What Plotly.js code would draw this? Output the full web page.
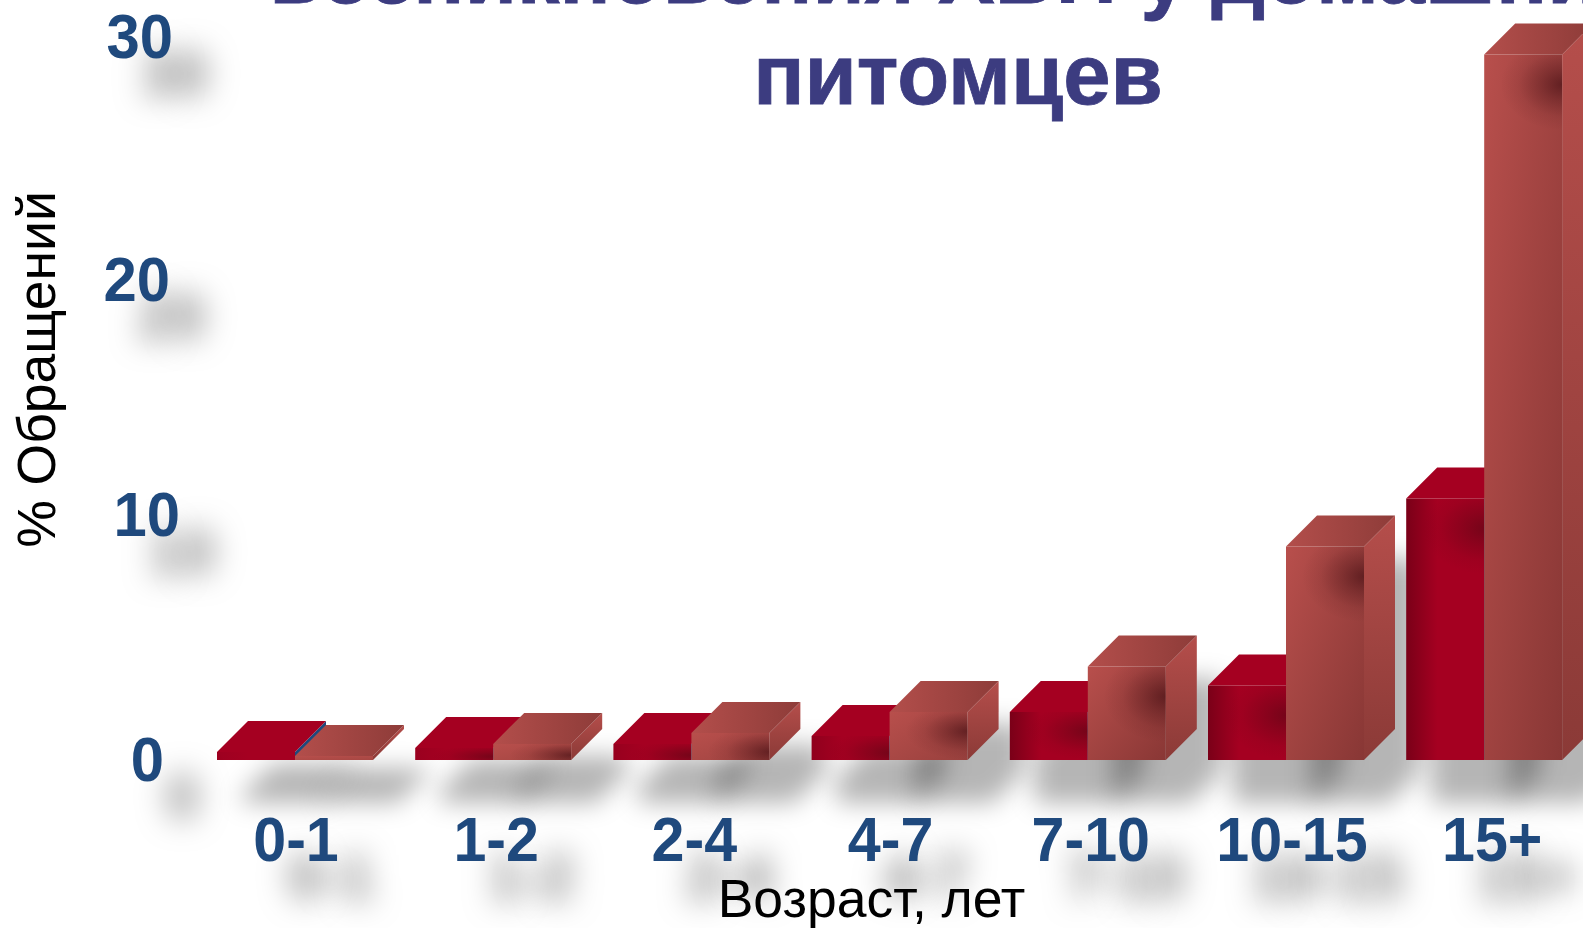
<!DOCTYPE html>
<html lang="ru">
<head>
<meta charset="utf-8">
<title>Возраст и обращения</title>
<script src="https://cdn.plot.ly/plotly-3.0.1.min.js"></script>
<style>
  html, body { margin: 0; padding: 0; background: #fff; overflow: hidden; }
  #chart { width: 1583px; height: 928px; }
</style>
</head>
<body>
<div id="chart"></div>
<script>
// Share of visits per age group, two series side by side
const ageGroups = ['0-1', '1-2', '2-4', '4-7', '7-10', '10-15', '15+'];
const seriesLeft = [0.33, 0.5, 0.67, 1.0, 2.0, 3.1, 10.9];
const seriesRight = [0.17, 0.67, 1.13, 2.0, 3.9, 8.9, 29.4];
const valueTicks = [0, 10, 20, 30];

// Fine placement of the tick labels, in pixels
const xTickNudge = [1, 3, 3, 1, 3, 6, 8];
const xTickLift = -46;
const yTickNudge = [[-15, -1], [1, -6], [-9, -1], [-6, -4]];

const W = 1583, H = 928;
const margin = { l: 180, r: 0, t: 0, b: 85 };
const pxPerGroup = 198.2, pxPerUnit = 24;
const firstGroupPx = 295, baselinePx = 760;

const xRange = [(margin.l - firstGroupPx) / pxPerGroup, (W - firstGroupPx) / pxPerGroup];
const yRange = [(baselinePx - (H - margin.b)) / pxPerUnit, baselinePx / pxPerUnit];

const barW = 78 / pxPerGroup;      // one bar's front width
const depthX = 31 / pxPerGroup;    // oblique depth of the box
const depthY = 31 / pxPerUnit;
const shadowX = 25 / pxPerGroup;   // cast shadow offset
const shadowY = 43 / pxPerUnit;

const NAVY = '#1F497D', TITLE = '#3C3C80';

function poly(xs, ys, extra) {
  return Object.assign({
    type: 'scatter', mode: 'none', x: xs.concat(xs[0]), y: ys.concat(ys[0]),
    fill: 'toself', hoverinfo: 'skip', showlegend: false
  }, extra);
}
function grad(type, c0, c1, mid) {
  const scale = mid === undefined ? [[0, c0], [1, c1]] : [[0, c0], [mid, c1], [1, c1]];
  return { fillgradient: { type: type, colorscale: scale } };
}
function mix(a, b, t) {
  return 'rgb(' + a.map((v, i) => Math.round(v + (b[i] - v) * t)).join(',') + ')';
}

// Box faces for one bar starting at x0 with value v
function frontFace(x0, v, extra) {
  return poly([x0, x0 + barW, x0 + barW, x0], [0, 0, v, v], extra);
}
function topFace(x0, v, extra) {
  return poly([x0, x0 + barW, x0 + barW + depthX, x0 + depthX], [v, v, v + depthY, v + depthY], extra);
}
function sideFace(x0, v, extra) {
  const x1 = x0 + barW;
  return poly([x1, x1 + depthX, x1 + depthX, x1], [0, depthY, v + depthY, v], extra);
}
// Dark soft spot whose centre sits on the right edge of a front face
function spot(x0, v, alpha) {
  const hPx = v * pxPerUnit, x1 = x0 + barW, x2 = x1 - 62 / pxPerGroup;
  const shade = { kind: 'spot', alpha: alpha };
  const opts = {
    fillgradient: { type: 'radial', colorscale: [[0, 'rgba(60,10,15,' + alpha + ')'], [1, 'rgba(60,10,15,0)']] },
    meta: shade
  };
  if (hPx < 40) {
    shade.tall = false;
    return poly([x2, x1, x1, x2], [0, 0, v, v], opts);
  }
  const cy = v - Math.min(30, hPx * 0.4) / pxPerUnit;
  const r = Math.min(46, cy * pxPerUnit) / pxPerUnit;
  shade.tall = true;
  return poly([x2, x1, x1, x2], [cy - r, cy - r, cy + r, cy + r], opts);
}
// Blurred copy of a box outline, shifted down and to the right
function castShadow(x0, v) {
  const x1 = x0 + barW, sx = shadowX, sy = -shadowY;
  return poly(
    [x0 + sx, x1 + sx, x1 + depthX + sx, x1 + depthX + sx, x0 + depthX + sx, x0 + sx],
    [sy, sy, depthY + sy, v + depthY + sy, v + depthY + sy, v + sy],
    { fillcolor: 'rgba(0,0,0,0.29)', meta: { kind: 'shadow' } });
}

const traces = [];
ageGroups.forEach((g, i) => {
  traces.push(castShadow(i - barW, seriesLeft[i]));
  traces.push(castShadow(i, seriesRight[i]));
});
ageGroups.forEach((g, i) => {
  const vl = seriesLeft[i], vr = seriesRight[i];
  const xl = i - barW, xr = i;

  // Left series: deep red, darker on its left side once it is tall enough
  const dk = Math.min(1, vl / 2);
  traces.push(frontFace(xl, vl, grad('horizontal', mix([165, 0, 33], [122, 0, 24], dk), '#A50021', 0.4)));
  if (vl >= 0.5) traces.push(spot(xl, vl, 0.45));
  traces.push(sideFace(xl, vl, { fillcolor: NAVY }));
  traces.push(topFace(xl, vl, { fillcolor: '#A50021' }));

  // Right series: brick red shading from the upper left to the lower right
  const tone = Math.min(1, vr / 4);
  const faceEnd = mix([168, 72, 68], [136, 55, 53], tone);
  traces.push(frontFace(xr, vr, Object.assign(grad('vertical', faceEnd, '#B84F4C'),
    { meta: { kind: 'diagonal', from: '#B84F4C', to: faceEnd } })));
  if (vr >= 0.5) traces.push(spot(xr, vr, 0.62));
  traces.push(sideFace(xr, vr, grad('vertical', '#8B3A37', '#B54E4B')));
  traces.push(topFace(xr, vr, grad('horizontal', '#B34E4B', '#8E3C39')));
});

const tickFont = {
  family: 'Liberation Sans, Arial, sans-serif', size: 63, color: NAVY, weight: 700,
  shadow: '36px 36px 30px rgba(0,0,0,0.5)'
};
const axisTitleFont = { family: 'Liberation Sans, Arial, sans-serif', size: 53.5, color: '#000' };

const layout = {
  width: W, height: H,
  margin: Object.assign({ pad: 0, autoexpand: false }, margin),
  paper_bgcolor: '#fff', plot_bgcolor: 'rgba(0,0,0,0)',
  showlegend: false,
  title: {
    text: 'возникновения ХБП у домашних<br>питомцев',
    font: { family: 'Liberation Sans, Arial, sans-serif', size: 85, color: TITLE, weight: 700 },
    x: 958 / W, xanchor: 'center', xref: 'container',
    y: 1.0, yref: 'container', yanchor: 'top', automargin: false,
    pad: { t: 0, b: 0, l: 0, r: 0 }
  },
  xaxis: {
    range: xRange, tickmode: 'array', tickvals: ageGroups.map((g, i) => i), ticktext: ageGroups,
    showgrid: false, zeroline: false, showline: false, ticks: '', tickfont: tickFont,
    title: { text: 'Возраст, лет', standoff: 0, font: axisTitleFont }
  },
  yaxis: {
    range: yRange, tickmode: 'array', tickvals: valueTicks, ticktext: valueTicks.map(String),
    showgrid: false, zeroline: false, showline: false, ticks: '', tickfont: tickFont,
    title: { text: '% Обращений', standoff: 0, font: axisTitleFont }
  }
};

// Slide a drawn text by (dx, dy), narrowing its glyphs a little around its anchor
function place(t, dx, dy, sx) {
  const cx = +t.getAttribute('x') || 0, cy = +t.getAttribute('y') || 0;
  const prior = t.getAttribute('transform') || '';
  t.setAttribute('transform',
    'translate(' + dx + ',' + dy + ') ' + prior +
    ' translate(' + cx + ',' + cy + ') scale(' + sx + ',1) translate(' + (-cx) + ',' + (-cy) + ')');
}

// Redefine the gradient a fill refers to, in units of the shape's own box
function reshapeGradient(path, attrs, stops) {
  const ref = (path.style.fill || path.getAttribute('fill') || '').match(/#([^"')]+)/);
  if (!ref) return;
  const g = document.getElementById(ref[1]);
  if (!g) return;
  g.removeAttribute('gradientTransform');
  g.setAttribute('gradientUnits', 'objectBoundingBox');
  Object.keys(attrs).forEach(k => g.setAttribute(k, attrs[k]));
  while (g.firstChild) g.removeChild(g.firstChild);
  stops.forEach(s => {
    const st = document.createElementNS('http://www.w3.org/2000/svg', 'stop');
    st.setAttribute('offset', s[0]);
    st.setAttribute('stop-color', s[1]);
    g.appendChild(st);
  });
}

Plotly.newPlot('chart', traces, layout, { staticPlot: true, displayModeBar: false }).then(gd => {
  gd.querySelectorAll('.scatterlayer .trace').forEach((g, i) => {
    const m = traces[i].meta;
    if (!m) return;
    g.querySelectorAll('path').forEach(p => {
      if (m.kind === 'shadow') p.style.filter = 'blur(12px)';
      if (m.kind === 'spot') {
        const c = a => 'rgba(60,10,15,' + a + ')';
        const stops = [[0, c(m.alpha)], [0.35, c(m.alpha * 0.55)], [0.7, c(m.alpha * 0.15)], [1, c(0)]];
        const shape = m.tall
          ? { cx: 1, cy: 0.5, fx: 1, fy: 0.5, r: 1,
              gradientTransform: 'translate(1,0.5) scale(1,0.5) translate(-1,-0.5)' }
          : { cx: 1, cy: 0.7, fx: 1, fy: 0.7, r: 1 };
        reshapeGradient(p, shape, stops);
      }
      if (m.kind === 'diagonal') {
        reshapeGradient(p, { x1: 0, y1: 0, x2: 1, y2: 1 }, [[0, m.from], [1, m.to]]);
      }
    });
  });

  gd.querySelectorAll('.xtick text').forEach((t, i) => place(t, xTickNudge[i], xTickLift, 0.94));
  gd.querySelectorAll('.ytick text').forEach((t, i) => place(t, yTickNudge[i][0], yTickNudge[i][1], 0.95));
  const xt = gd.querySelector('.xtitle'), yt = gd.querySelector('.ytitle');
  if (xt) xt.setAttribute('transform', 'translate(-10,0) ' + (xt.getAttribute('transform') || ''));
  if (yt) yt.setAttribute('transform', 'translate(-36,-52) ' + (yt.getAttribute('transform') || ''));

  // Title: tighter leading than the default, slightly heavier strokes
  const title = gd.querySelector('.gtitle');
  if (title) {
    title.setAttribute('transform', 'translate(0,2.5) ' + (title.getAttribute('transform') || ''));
    title.style.stroke = TITLE;
    title.style.strokeWidth = '0.8px';
    const lines = title.querySelectorAll('tspan.line');
    if (lines[1]) lines[1].setAttribute('dy', '101');
  }
});
</script>
</body>
</html>
